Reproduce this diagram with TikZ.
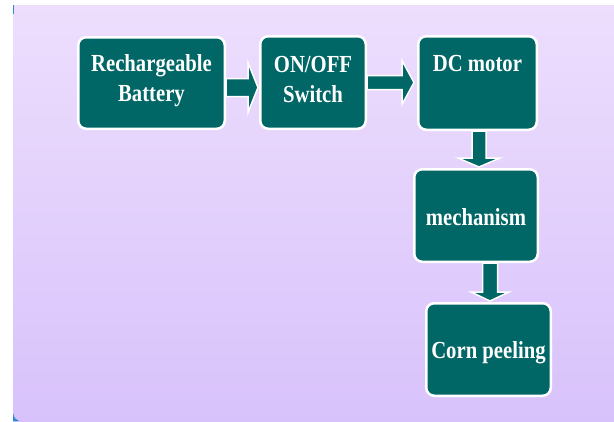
\documentclass[tikz,border=0pt]{standalone}
\usepackage{fontspec}
\setmainfont{Liberation Serif}[FakeStretch=0.845]
\usetikzlibrary{calc}
\definecolor{teal}{RGB}{0,102,102}
\definecolor{lavtop}{RGB}{237,222,253}
\definecolor{lavbot}{RGB}{216,194,251}
\definecolor{slideblue}{RGB}{40,140,210}
\tikzset{
  stagebox/.style={draw=white, line width=2.5pt, fill=teal, rounded corners=8pt,
    text=white, inner sep=0pt,
    font=\fontsize{24.5}{30}\selectfont\bfseries},
  barrow/.style={draw=white, line width=1.5pt, fill=teal, line join=miter}
}
\newcommand\TwoLines[4]{\raisebox{0pt}[#3][#4]{\begin{tabular}[t]{@{}c@{}}#1\\#2\end{tabular}}}
\newcommand\HArr[7]{% from, to, dy down, shaft half, head half, head length, gap
  \draw[barrow] let \p1=(#1.east), \p2=(#2.west) in
    (\x1,\y1-#3pt+#4pt) -- (\x2-#7pt-#6pt,\y1-#3pt+#4pt) -- (\x2-#7pt-#6pt,\y1-#3pt+#5pt)
    -- (\x2-#7pt,\y1-#3pt) -- (\x2-#7pt-#6pt,\y1-#3pt-#5pt) -- (\x2-#7pt-#6pt,\y1-#3pt-#4pt)
    -- (\x1,\y1-#3pt-#4pt) -- cycle;}
\newcommand\VArr[7]{% from, to, dx right, shaft half, head half, head length, gap
  \draw[barrow] let \p1=(#1.south), \p2=(#2.north) in
    (\x1+#3pt-#4pt,\y1) -- (\x1+#3pt-#4pt,\y2+#7pt+#6pt) -- (\x1+#3pt-#5pt,\y2+#7pt+#6pt)
    -- (\x1+#3pt,\y2+#7pt) -- (\x1+#3pt+#5pt,\y2+#7pt+#6pt) -- (\x1+#3pt+#4pt,\y2+#7pt+#6pt)
    -- (\x1+#3pt+#4pt,\y1) -- cycle;}
\begin{document}
\begin{tikzpicture}[x=1pt,y=-1pt]
  \useasboundingbox (0,0) rectangle (614,421);
  \fill[white] (0,0) rectangle (614,421);
  \shade[top color=lavtop, bottom color=lavbot] (13,5) rectangle (614,421);
  \fill[slideblue] (13,5) rectangle (14.2,14);
  \fill[slideblue] (13,413) .. controls (14,418) and (16,420) .. (19,421) -- (13,421) -- cycle;

  \node[stagebox, minimum width=146.5pt, minimum height=91.5pt] (b1) at (151.5,83)
    {\TwoLines{Rechargeable}{Battery}{17pt}{41pt}};
  \node[stagebox, minimum width=105.5pt, minimum height=92.5pt] (b2) at (313,82.5)
    {\TwoLines{ON/OFF}{Switch}{17pt}{38pt}};
  \node[stagebox, minimum width=118.5pt, minimum height=93.5pt, text height=17pt, text depth=41pt] (b3) at (477.5,83) {DC motor};
  \node[stagebox, minimum width=123.5pt, minimum height=92.5pt, text height=19pt, text depth=0pt] (b4) at (476,215.5) {mechanism};
  \node[stagebox, minimum width=124.5pt, minimum height=92.5pt, text height=17pt, text depth=0pt] (b5) at (488.5,349.5) {Corn peeling};

  \HArr{b1}{b2}{4.5}{9}{25}{10}{1}
  \HArr{b2}{b3}{0}{7}{22}{12}{3}
  \VArr{b3}{b4}{1.5}{7}{21}{9}{1}
  \VArr{b4}{b5}{14}{7.5}{19}{9}{1}
\end{tikzpicture}
\end{document}
